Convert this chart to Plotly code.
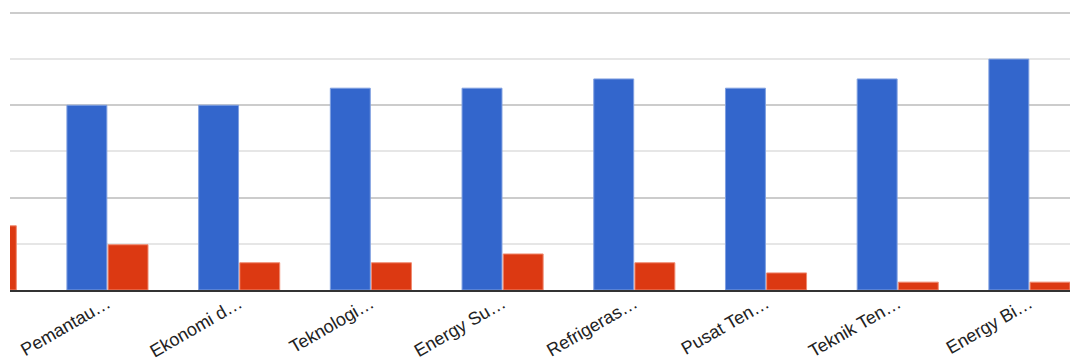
import plotly.graph_objects as go

categories = ["", "Pemantau…", "Ekonomi d…", "Teknologi…", "Energy Su…",
              "Refrigeras…", "Pusat Ten…", "Teknik Ten…", "Energy Bi…"]
blue_values = [None, 4.0, 4.0, 4.37, 4.37, 4.57, 4.37, 4.57, 5.0]
red_values = [1.39, 0.98, 0.59, 0.59, 0.78, 0.59, 0.37, 0.17, 0.17]

fig = go.Figure()
fig.add_trace(go.Bar(x=list(range(len(categories))), y=blue_values,
                     marker=dict(color="#3366cc", line=dict(color="#7f9fe0", width=1))))
fig.add_trace(go.Bar(x=list(range(len(categories))), y=red_values,
                     marker=dict(color="#dc3912", line=dict(color="#f08a70", width=1))))

fig.update_layout(
    width=1070, height=362,
    margin=dict(l=10, r=0, t=6, b=72),
    paper_bgcolor="white", plot_bgcolor="white",
    showlegend=False,
    barmode="group", bargap=0.375, bargroupgap=0.03,
    font=dict(family="Liberation Sans, Arial, sans-serif", size=18, color="#222222"),
)
fig.update_xaxes(
    tickmode="array", tickvals=list(range(len(categories))), ticktext=categories,
    range=[0.26, 8.308], tickangle=-30, showgrid=False,
    showline=True, linecolor="#333333", linewidth=2, ticks="",
    ticklabelstandoff=-6,
)
fig.update_yaxes(
    range=[0, 6.15], tickvals=[0, 2, 4, 6], showticklabels=False,
    gridcolor="#cccccc", gridwidth=1.5,
    zeroline=False,
    minor=dict(tickvals=[1, 3, 5], showgrid=True, gridcolor="#e6e6e6", gridwidth=1.5),
)

fig.write_html("out.html")
